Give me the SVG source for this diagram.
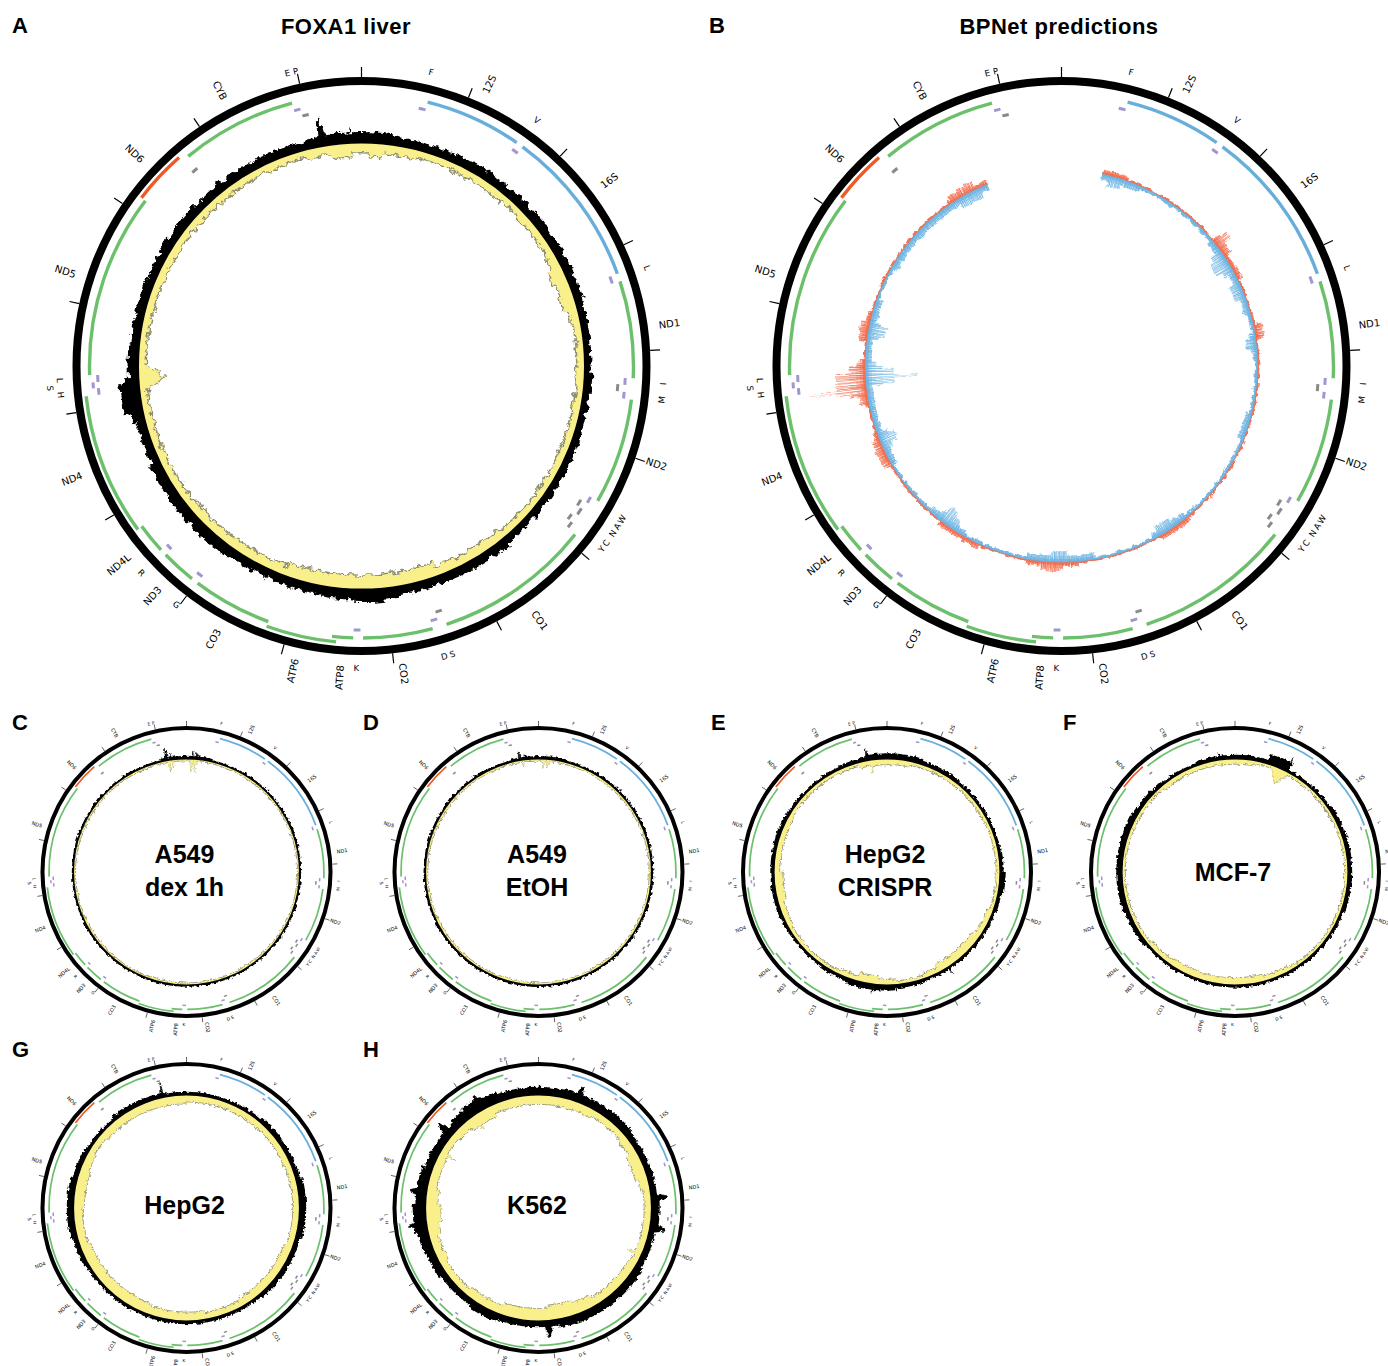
<svg xmlns="http://www.w3.org/2000/svg" width="1388" height="1366" viewBox="0 0 1388 1366">
<style>
.a{fill:none}
.k{stroke:#000;fill:#000}
.tk{fill:none;stroke:#000;stroke-width:1.2}
.g{font-family:"DejaVu Sans",sans-serif;font-size:10px;dominant-baseline:central;fill:#000}
.ge{font-family:"DejaVu Sans",sans-serif;font-size:10px;dominant-baseline:central;text-anchor:end;fill:#000}
.t{font-family:"DejaVu Sans",sans-serif;font-size:8.5px;dominant-baseline:central;text-anchor:middle;fill:#000}
.hd{font-family:"Liberation Sans",Arial,sans-serif;font-weight:bold;font-size:22px;letter-spacing:0.5px}
.big{font-family:"Liberation Sans",Arial,sans-serif;font-weight:bold;font-size:25px;text-anchor:middle}
.base{fill:none;stroke:#000;stroke-width:3}
</style>
<defs>
<filter id="rough" x="-10%" y="-10%" width="120%" height="120%" color-interpolation-filters="sRGB">
<feTurbulence type="fractalNoise" baseFrequency="0.15" numOctaves="3" seed="4" result="n"/>
<feDisplacementMap in="SourceGraphic" in2="n" scale="9" xChannelSelector="R" yChannelSelector="G"/>
</filter>
<filter id="rough2" x="-10%" y="-10%" width="120%" height="120%" color-interpolation-filters="sRGB">
<feTurbulence type="fractalNoise" baseFrequency="0.2" numOctaves="2" seed="9" result="n"/>
<feDisplacementMap in="SourceGraphic" in2="n" scale="6" xChannelSelector="R" yChannelSelector="G"/>
</filter>
<clipPath id="cOut"><path clip-rule="evenodd" d="M-400-400H400V400H-400ZM0-224A224 224 0 0 0 0 224A224 224 0 0 0 0-224Z"/></clipPath>
<clipPath id="cIn"><circle r="224"/></clipPath>

<g id="skel">
<circle r="285" fill="none" stroke="#000" stroke-width="8"/>
<path class="tk" d="M0-289V-299M107-268.5L110.7-277.8M198.7-209.8L205.6-217.1M262.3-121.3L271.4-125.5M288.6-15.6L298.6-16.1M273.9 92.3L283.3 95.5M220.2 187.2L227.8 193.6M135.3 255.4L140 264.2M31.1 287.3L32.2 297.3M-77.4 278.4L-80.1 288.1M-175 230L-181 238M-247.7 148.9L-256.3 154M-285.2 46.6L-295.1 48.2M-282.2-62.3L-292-64.5M-239.1-162.4L-247.4-168M-162-239.3L-167.6-247.6M-61.9-282.3L-64-292.1"/>
<path class="a" pathLength="16569" stroke="#6cc06b" stroke-width="3.4" stroke-dasharray="955 208 1041 393 1541 141 683 97 206 635 783 69 345 66 296 1571 1811 599 1140 3989" stroke-dashoffset="-3307" d="M0-272A272 272 0 0 1 0 272A272 272 0 0 1 0-272"/>
<path class="a" pathLength="16569" stroke="#68aedb" stroke-width="3.4" stroke-dasharray="953 70 1558 13988" stroke-dashoffset="-648" d="M0-272A272 272 0 0 1 0 272A272 272 0 0 1 0-272"/>
<path class="a" pathLength="16569" stroke="#6cc06b" stroke-width="3.4" stroke-dasharray="680 1553 1377 12959" stroke-dashoffset="-8527" d="M0-277A277 277 0 0 1 0 277A277 277 0 0 1 0-277"/>
<path class="a" pathLength="16569" stroke="#f05a22" stroke-width="3.4" stroke-dasharray="524 16045" stroke-dashoffset="-14149" d="M0-277A277 277 0 0 1 0 277A277 277 0 0 1 0-277"/>
<path class="a" pathLength="16569" stroke="#a097d0" stroke-width="3" stroke-dasharray="70 955 68 1560 74 959 68 71 67 1043 67 1939 67 710 69 1627 67 347 64 1669 68 60 70 3552 65 1193" stroke-dashoffset="-577" d="M0-264A264 264 0 0 1 0 264A264 264 0 0 1 0-264"/>
<path class="a" pathLength="16569" stroke="#a097d0" stroke-width="3" stroke-dasharray="58 16511" stroke-dashoffset="-12207" d="M0-269A269 269 0 0 1 0 269A269 269 0 0 1 0-269"/>
<path class="a" pathLength="16569" stroke="#8a8a8a" stroke-width="3" stroke-dasharray="71 1187 68 106 65 1620 68 7160 68 1214 67 4875" stroke-dashoffset="-4329" d="M0-257A257 257 0 0 1 0 257A257 257 0 0 1 0-257"/>
<path class="a" pathLength="16569" stroke="#8a8a8a" stroke-width="3" stroke-dasharray="72 97 65 16335" stroke-dashoffset="-5657" d="M0-262A262 262 0 0 1 0 262A262 262 0 0 1 0-262"/>
<text class="g" transform="rotate(-65.6)" x="300">12S</text>
<text class="g" transform="rotate(-36.8)" x="300">16S</text>
<text class="g" transform="rotate(-7.8)" x="300">ND1</text>
<text class="g" transform="rotate(18.4)" x="300">ND2</text>
<text class="g" transform="rotate(55)" x="300">CO1</text>
<text class="g" transform="rotate(82.2)" x="300">CO2</text>
<text class="ge" transform="rotate(-86)" x="-300">ATP8</text>
<text class="ge" transform="rotate(-77.3)" x="-300">ATP6</text>
<text class="ge" transform="rotate(-61.5)" x="-300">CO3</text>
<text class="ge" transform="rotate(-47.7)" x="-300">ND3</text>
<text class="ge" transform="rotate(-39.3)" x="-300">ND4L</text>
<text class="ge" transform="rotate(-21.3)" x="-300">ND4</text>
<text class="ge" transform="rotate(17.7)" x="-300">ND5</text>
<text class="ge" transform="rotate(43.1)" x="-300">ND6</text>
<text class="ge" transform="rotate(62.8)" x="-300">CYB</text>
<text class="t" transform="rotate(-14.2)" y="-302">E</text>
<text class="t" transform="rotate(-12.6)" y="-302">P</text>
<text class="t" transform="rotate(13.3)" y="-302">F</text>
<text class="t" transform="rotate(35.5)" y="-302">V</text>
<text class="t" transform="rotate(71)" y="-302">L</text>
<text class="t" transform="rotate(-86.6)" y="302">I</text>
<text class="t" transform="rotate(-83.6)" y="302">M</text>
<text class="t" transform="rotate(-59.5)" y="302">W</text>
<text class="t" transform="rotate(-57.9)" y="302">A</text>
<text class="t" transform="rotate(-56.3)" y="302">N</text>
<text class="t" transform="rotate(-54.1)" y="302">C</text>
<text class="t" transform="rotate(-52.7)" y="302">Y</text>
<text class="t" transform="rotate(-17.5)" y="302">S</text>
<text class="t" transform="rotate(-15.9)" y="302">D</text>
<text class="t" transform="rotate(1)" y="302">K</text>
<text class="t" transform="rotate(37.8)" y="302">G</text>
<text class="t" transform="rotate(46.8)" y="302">R</text>
<text class="t" transform="rotate(84.5)" y="302">H</text>
<text class="t" transform="rotate(85.9)" y="312">S</text>
<text class="t" transform="rotate(87.3)" y="302">L</text>
</g>

<g id="yA">
<circle class="a" r="222" stroke-width="12"/>
<path class="a" pathLength="360" stroke-width="14" stroke-dasharray="30 45 18 62 90 115" stroke-dashoffset="15" d="M0-221A221 221 0 0 1 0 221A221 221 0 0 1 0-221"/>
<path class="a" pathLength="360" stroke-width="18" stroke-dasharray="5 5 4 57 12 85 40 152" stroke-dashoffset="8" d="M0-219A219 219 0 0 1 0 219A219 219 0 0 1 0-219"/>
<path d="M-16-223.4L0-198L16-223.4z" transform="rotate(267)"/>
</g>
<g id="yC">
<circle class="a" r="224.25" stroke-width="7.5"/>
<path d="M-3-223L0-204L3-223z" transform="rotate(-9)"/>
<path d="M-2.5-223L0-211L2.5-223z" transform="rotate(-7)"/>
<path d="M-3-223L0-199L3-223z" transform="rotate(2.5)"/>
<path d="M-3-223L0-201L3-223z" transform="rotate(4.5)"/>
</g>
<g id="yD">
<circle class="a" r="224" stroke-width="8"/>
<path d="M-2.5-223L0-212L2.5-223z" transform="rotate(-8)"/>
<path d="M-3-223L0-206L3-223z" transform="rotate(2.5)"/>
<path d="M-3-223L0-209L3-223z" transform="rotate(5)"/>
</g>
<g id="yE">
<circle class="a" r="222.5" stroke-width="11"/>
<path class="a" pathLength="360" stroke-width="15" stroke-dasharray="27 98 50 15 30 35 60 45" stroke-dashoffset="15" d="M0-220.5A220.5 220.5 0 0 1 0 220.5A220.5 220.5 0 0 1 0-220.5"/>
<path class="a" pathLength="360" stroke-width="21" stroke-dasharray="27 33 10 60 15 215" stroke-dashoffset="-125" d="M0-217.5A217.5 217.5 0 0 1 0 217.5A217.5 217.5 0 0 1 0-217.5"/>
<path d="M-3-223L0-201L3-223z" transform="rotate(-8)"/>
<path d="M-3-223L0-208L3-223z" transform="rotate(-1)"/>
</g>
<g id="yF">
<circle class="a" r="223" stroke-width="10"/>
<path class="a" pathLength="360" stroke-width="14" stroke-dasharray="50 140 80 90" stroke-dashoffset="40" d="M0-221A221 221 0 0 1 0 221A221 221 0 0 1 0-221"/>
<path class="a" pathLength="360" stroke-width="18" stroke-dasharray="50 310" stroke-dashoffset="-165" d="M0-219A219 219 0 0 1 0 219A219 219 0 0 1 0-219"/>
<path d="M-20-223.1L0-193L20-223.1z" transform="rotate(24)"/>
</g>
<g id="yG">
<circle class="a" r="219.5" stroke-width="17"/>
<path class="a" pathLength="360" stroke-width="21" stroke-dasharray="50 110 40 20 130 10" stroke-dashoffset="50" d="M0-217.5A217.5 217.5 0 0 1 0 217.5A217.5 217.5 0 0 1 0-217.5"/>
<path class="a" pathLength="360" stroke-width="25" stroke-dasharray="50 20 20 270" stroke-dashoffset="-200" d="M0-215.5A215.5 215.5 0 0 1 0 215.5A215.5 215.5 0 0 1 0-215.5"/>
</g>
<g id="yH">
<circle class="a" r="219" stroke-width="18"/>
<path class="a" pathLength="360" stroke-width="22" stroke-dasharray="80 20 30 40 100 20 60 10" stroke-dashoffset="50" d="M0-217A217 217 0 0 1 0 217A217 217 0 0 1 0-217"/>
<path class="a" pathLength="360" stroke-width="28" stroke-dasharray="15 85 15 75 50 55 25 40" stroke-dashoffset="40" d="M0-214A214 214 0 0 1 0 214A214 214 0 0 1 0-214"/>
<path class="a" pathLength="360" stroke-width="34" stroke-dasharray="15 87 10 248" stroke-dashoffset="-160" d="M0-211A211 211 0 0 1 0 211A211 211 0 0 1 0-211"/>
<path d="M-4-223L0-192L4-223z" transform="rotate(-35)"/>
<path d="M-4-223L0-194L4-223z" transform="rotate(115)"/>
<path d="M-4-223L0-193L4-223z" transform="rotate(300)"/>
</g>

<mask id="mBo" maskUnits="userSpaceOnUse" x="-330" y="-330" width="660" height="660">
<g class="a" stroke="#fff" filter="url(#rough2)">
<path pathLength="360" stroke-width="3" stroke-dasharray="326 34" stroke-dashoffset="-12" d="M0-196.5A196.5 196.5 0 0 1 0 196.5A196.5 196.5 0 0 1 0-196.5"/>
<path pathLength="360" stroke-width="6" stroke-dasharray="8 32 12 76 10 25 15 15 13 22 10 8 14 6 8 39 13 34" stroke-dashoffset="-12" d="M0-198A198 198 0 0 1 0 198A198 198 0 0 1 0-198"/>
<path pathLength="360" stroke-width="10" stroke-dasharray="6 22 4 98 6 54 8 11 12 6 6 43 8 76" stroke-dashoffset="-50" d="M0-200A200 200 0 0 1 0 200A200 200 0 0 1 0-200"/>
<path pathLength="360" stroke-width="17" stroke-dasharray="2 208 9 141" stroke-dashoffset="-51" d="M0-203.5A203.5 203.5 0 0 1 0 203.5A203.5 203.5 0 0 1 0-203.5"/>
<path pathLength="360" stroke-width="31" stroke-dasharray="6 354" stroke-dashoffset="-262" d="M0-210.5A210.5 210.5 0 0 1 0 210.5A210.5 210.5 0 0 1 0-210.5"/>
<path pathLength="360" stroke-width="59" stroke-dasharray="0.7 359.3" stroke-dashoffset="-262.6" d="M0-224.5A224.5 224.5 0 0 1 0 224.5A224.5 224.5 0 0 1 0-224.5"/>
</g>
</mask>
<mask id="mBb" maskUnits="userSpaceOnUse" x="-330" y="-330" width="660" height="660">
<g class="a" stroke="#fff" filter="url(#rough2)">
<path pathLength="360" stroke-width="3.5" stroke-dasharray="326 34" stroke-dashoffset="-12" d="M0-195.25A195.25 195.25 0 0 1 0 195.25A195.25 195.25 0 0 1 0-195.25"/>
<path pathLength="360" stroke-width="7" stroke-dasharray="12 26 25 5 6 18 8 28 12 18 20 20 12 18 50 10 38 34" stroke-dashoffset="-12" d="M0-193.5A193.5 193.5 0 0 1 0 193.5A193.5 193.5 0 0 1 0-193.5"/>
<path pathLength="360" stroke-width="12" stroke-dasharray="4 36 8 3 5 12 3 60 5 28 5 30 6 26 5 14 7 7 5 45 7 39" stroke-dashoffset="-14" d="M0-191A191 191 0 0 1 0 191A191 191 0 0 1 0-191"/>
<path pathLength="360" stroke-width="18" stroke-dasharray="4 155 3 28 3 15 6 9 3 134" stroke-dashoffset="-56" d="M0-188A188 188 0 0 1 0 188A188 188 0 0 1 0-188"/>
<path pathLength="360" stroke-width="29" stroke-dasharray="5 355" stroke-dashoffset="-264.5" d="M0-182.5A182.5 182.5 0 0 1 0 182.5A182.5 182.5 0 0 1 0-182.5"/>
<path pathLength="360" stroke-width="53" stroke-dasharray="1.2 358.8" stroke-dashoffset="-266" d="M0-170.5A170.5 170.5 0 0 1 0 170.5A170.5 170.5 0 0 1 0-170.5"/>
</g>
</mask>
</defs>

<rect width="1388" height="1366" fill="#fff"/>

<g id="titles">
<text class="hd" x="12" y="33">A</text>
<text class="hd" x="346" y="34" text-anchor="middle">FOXA1 liver</text>
<text class="hd" x="709" y="33">B</text>
<text class="hd" x="1059" y="34" text-anchor="middle">BPNet predictions</text>
<text class="hd" x="12" y="730">C</text>
<text class="hd" x="363" y="730">D</text>
<text class="hd" x="711" y="730">E</text>
<text class="hd" x="1063" y="730">F</text>
<text class="hd" x="12" y="1057">G</text>
<text class="hd" x="363" y="1057">H</text>
</g>

<g id="panelA" transform="translate(361.5,366)">
<use href="#skel"/>
<g clip-path="url(#cOut)"><g filter="url(#rough)" class="k">
<circle class="a" r="225" stroke-width="10"/>
<path class="a" pathLength="360" stroke-width="12" stroke-dasharray="295 65" stroke-dashoffset="-140" d="M0-226A226 226 0 0 1 0 226A226 226 0 0 1 0-226"/>
<path class="a" pathLength="360" stroke-width="14" stroke-dasharray="20 162 20 25 30 11 19 73" stroke-dashoffset="12" d="M0-227A227 227 0 0 1 0 227A227 227 0 0 1 0-227"/>
<path class="a" pathLength="360" stroke-width="17" stroke-dasharray="8 74 11 267" stroke-dashoffset="-174" d="M0-228.5A228.5 228.5 0 0 1 0 228.5A228.5 228.5 0 0 1 0-228.5"/>
<path class="a" pathLength="360" stroke-width="22" stroke-dasharray="8 352" stroke-dashoffset="-258" d="M0-231A231 231 0 0 1 0 231A231 231 0 0 1 0-231"/>
<path d="M-3-224L0-254L3-224z" transform="rotate(-10)"/>
<path d="M-2.5-224L0-238L2.5-224z" transform="rotate(-3)"/>
</g></g>
<g clip-path="url(#cIn)"><g filter="url(#rough)">
<use href="#yA" stroke="#8e8e72" fill="#8e8e72" transform="scale(0.993)"/>
<use href="#yA" stroke="#f9f08c" fill="#f9f08c"/>
</g></g>
<circle class="base" r="224"/>
</g>

<g id="panelB" transform="translate(1061.5,366)">
<use href="#skel"/>
<g mask="url(#mBo)" fill="none" stroke="#f26a4b">
<circle r="197.5" stroke-width="3" stroke-dasharray="0.9 0.3 0.6 0.4 1.1 0.3"/>
<circle r="199" stroke-width="6" stroke-dasharray="0.4 0.5 0.5 0.9 0.3 0.6 0.6 1.2 0.4 0.7"/>
<circle r="201" stroke-width="10" stroke-dasharray="0.4 1.1 0.5 1.9 0.3 0.9 0.4 2.6 0.5 1.4"/>
<circle r="204.5" stroke-width="17" stroke-dasharray="0.4 1.7 0.5 2.9 0.3 2.3 0.4 1.2"/>
<circle r="212" stroke-width="32" stroke-dasharray="0.4 1.4 0.3 2.2 0.5 3.1 0.4 0.9"/>
<circle r="227" stroke-width="62" stroke-dasharray="0.4 1.1 0.3 1.6"/>
</g>
<g mask="url(#mBb)" fill="none" stroke="#6cb4e2">
<circle r="194.5" stroke-width="3" stroke-dasharray="1 0.3 0.7 0.4 0.8 0.2"/>
<circle r="193" stroke-width="6" stroke-dasharray="0.5 0.5 0.4 0.9 0.6 0.4 0.3 1.1 0.5 0.6"/>
<circle r="191" stroke-width="10" stroke-dasharray="0.5 1.1 0.4 1.8 0.3 1.3 0.5 2.2 0.4 0.8"/>
<circle r="187.5" stroke-width="17" stroke-dasharray="0.4 1.5 0.3 2.6 0.5 2 0.4 1.1"/>
<circle r="180" stroke-width="32" stroke-dasharray="0.4 1.2 0.3 2 0.5 2.8 0.4 0.9"/>
<circle r="167" stroke-width="58" stroke-dasharray="0.4 0.9 0.3 1.4"/>
</g>
<path class="a" pathLength="360" stroke="#6cb4e2" stroke-width="1.4" stroke-dasharray="326 34" stroke-dashoffset="-12" d="M0-196A196 196 0 0 1 0 196A196 196 0 0 1 0-196"/>
<path class="a" pathLength="360" stroke="#f26a4b" stroke-width="0.7" stroke-dasharray="326 34" stroke-dashoffset="-12" d="M0-196.8A196.8 196.8 0 0 1 0 196.8A196.8 196.8 0 0 1 0-196.8"/>
</g>

<g id="panelC" transform="translate(186.5,872) scale(0.5053)">
<use href="#skel"/>
<g clip-path="url(#cOut)"><g filter="url(#rough)" class="k">
<circle class="a" r="223.5" stroke-width="7"/>
<path class="a" pathLength="360" stroke-width="10" stroke-dasharray="26 334" stroke-dashoffset="13" d="M0-225A225 225 0 0 1 0 225A225 225 0 0 1 0-225"/>
<path d="M-3-224L0-250L3-224z" transform="rotate(-10)"/>
<path d="M-2.5-224L0-238L2.5-224z" transform="rotate(-8)"/>
<path d="M-2.5-224L0-240L2.5-224z" transform="rotate(3)"/>
<path d="M-2-224L0-238L2-224z" transform="rotate(5)"/>
</g></g>
<g clip-path="url(#cIn)"><g filter="url(#rough)">
<use href="#yC" stroke="#8e8e72" fill="#8e8e72" transform="scale(0.993)"/>
<use href="#yC" stroke="#f9f08c" fill="#f9f08c"/>
</g></g>
<circle class="base" r="224"/>
</g>
<text class="big" x="184.5" y="863">A549</text>
<text class="big" x="184.5" y="896">dex 1h</text>

<g id="panelD" transform="translate(538.5,872) scale(0.5053)">
<use href="#skel"/>
<g clip-path="url(#cOut)"><g filter="url(#rough)" class="k">
<circle class="a" r="223.75" stroke-width="7.5"/>
<path class="a" pathLength="360" stroke-width="9.5" stroke-dasharray="28 332" stroke-dashoffset="14" d="M0-224.75A224.75 224.75 0 0 1 0 224.75A224.75 224.75 0 0 1 0-224.75"/>
<path d="M-3-224L0-242L3-224z" transform="rotate(-9.5)"/>
<path d="M-2-224L0-234L2-224z" transform="rotate(-7)"/>
<path d="M-2-224L0-232L2-224z" transform="rotate(4)"/>
</g></g>
<g clip-path="url(#cIn)"><g filter="url(#rough)">
<use href="#yD" stroke="#8e8e72" fill="#8e8e72" transform="scale(0.993)"/>
<use href="#yD" stroke="#f9f08c" fill="#f9f08c"/>
</g></g>
<circle class="base" r="224"/>
</g>
<text class="big" x="537" y="863">A549</text>
<text class="big" x="537" y="896">EtOH</text>

<g id="panelE" transform="translate(887,872) scale(0.5053)">
<use href="#skel"/>
<g clip-path="url(#cOut)"><g filter="url(#rough)" class="k">
<circle class="a" r="224.5" stroke-width="9"/>
<path class="a" pathLength="360" stroke-width="11" stroke-dasharray="65 40 30 50 55 30 55 35" stroke-dashoffset="25" d="M0-225.5A225.5 225.5 0 0 1 0 225.5A225.5 225.5 0 0 1 0-225.5"/>
<path class="a" pathLength="360" stroke-width="15" stroke-dasharray="28 72 10 75 25 150" stroke-dashoffset="10" d="M0-227.5A227.5 227.5 0 0 1 0 227.5A227.5 227.5 0 0 1 0-227.5"/>
<path d="M-3-224L0-248L3-224z" transform="rotate(-10)"/>
<path d="M-3-224L0-242L3-224z" transform="rotate(147)"/>
<path d="M-3-224L0-242L3-224z" transform="rotate(187)"/>
</g></g>
<g clip-path="url(#cIn)"><g filter="url(#rough)">
<use href="#yE" stroke="#8e8e72" fill="#8e8e72" transform="scale(0.993)"/>
<use href="#yE" stroke="#f9f08c" fill="#f9f08c"/>
</g></g>
<circle class="base" r="224"/>
</g>
<text class="big" x="885" y="863">HepG2</text>
<text class="big" x="885" y="896">CRISPR</text>

<g id="panelF" transform="translate(1235,872) scale(0.5053)">
<use href="#skel"/>
<g clip-path="url(#cOut)"><g filter="url(#rough)" class="k">
<circle class="a" r="224.5" stroke-width="9"/>
<path class="a" pathLength="360" stroke-width="12" stroke-dasharray="37 38 55 120 90 20" stroke-dashoffset="20" d="M0-226A226 226 0 0 1 0 226A226 226 0 0 1 0-226"/>
<path class="a" pathLength="360" stroke-width="15" stroke-dasharray="50 310" stroke-dashoffset="-250" d="M0-227.5A227.5 227.5 0 0 1 0 227.5A227.5 227.5 0 0 1 0-227.5"/>
<path class="a" pathLength="360" stroke-width="24" stroke-dasharray="11 349" stroke-dashoffset="-17" d="M0-232A232 232 0 0 1 0 232A232 232 0 0 1 0-232"/>
<path d="M-2.5-224L0-240L2.5-224z" transform="rotate(-8)"/>
<path d="M-4-224L0-254L4-224z" transform="rotate(27)"/>
</g></g>
<g clip-path="url(#cIn)"><g filter="url(#rough)">
<use href="#yF" stroke="#8e8e72" fill="#8e8e72" transform="scale(0.993)"/>
<use href="#yF" stroke="#f9f08c" fill="#f9f08c"/>
</g></g>
<circle class="base" r="224"/>
</g>
<text class="big" x="1233" y="881">MCF-7</text>

<g id="panelG" transform="translate(186.5,1208) scale(0.5053)">
<use href="#skel"/>
<g clip-path="url(#cOut)"><g filter="url(#rough)" class="k">
<circle class="a" r="225" stroke-width="10"/>
<path class="a" pathLength="360" stroke-width="13" stroke-dasharray="30 50 100 100 60 20" stroke-dashoffset="40" d="M0-226.5A226.5 226.5 0 0 1 0 226.5A226.5 226.5 0 0 1 0-226.5"/>
<path class="a" pathLength="360" stroke-width="17" stroke-dasharray="30 150 30 150" stroke-dashoffset="-75" d="M0-228.5A228.5 228.5 0 0 1 0 228.5A228.5 228.5 0 0 1 0-228.5"/>
<path d="M-3-224L0-254L3-224z" transform="rotate(-12)"/>
</g></g>
<g clip-path="url(#cIn)"><g filter="url(#rough)">
<use href="#yG" stroke="#8e8e72" fill="#8e8e72" transform="scale(0.993)"/>
<use href="#yG" stroke="#f9f08c" fill="#f9f08c"/>
</g></g>
<circle class="base" r="224"/>
</g>
<text class="big" x="184.5" y="1214">HepG2</text>

<g id="panelH" transform="translate(538.5,1208) scale(0.5053)">
<use href="#skel"/>
<g clip-path="url(#cOut)"><g filter="url(#rough)" class="k">
<circle class="a" r="228" stroke-width="16"/>
<path class="a" pathLength="360" stroke-width="20" stroke-dasharray="15 20 50 30 15 20 175 35" stroke-dashoffset="-85" d="M0-230A230 230 0 0 1 0 230A230 230 0 0 1 0-230"/>
<path class="a" pathLength="360" stroke-width="24" stroke-dasharray="25 270 40 25" stroke-dashoffset="45" d="M0-232A232 232 0 0 1 0 232A232 232 0 0 1 0-232"/>
<path class="a" pathLength="360" stroke-width="29" stroke-dasharray="10 286 14 50" stroke-dashoffset="38" d="M0-234.5A234.5 234.5 0 0 1 0 234.5A234.5 234.5 0 0 1 0-234.5"/>
<path d="M-10-224L-2-258L2-258L10-224z" transform="rotate(-50)"/>
<path d="M-10-224L-2-256L2-256L10-224z" transform="rotate(-30)"/>
<path d="M-10-224L-2-254L2-254L10-224z" transform="rotate(20)"/>
<path d="M-10-224L-2-256L2-256L10-224z" transform="rotate(85)"/>
<path d="M-10-224L-2-254L2-254L10-224z" transform="rotate(100)"/>
<path d="M-10-224L-2-255L2-255L10-224z" transform="rotate(175)"/>
<path d="M-10-224L-2-259L2-259L10-224z" transform="rotate(262)"/>
<path d="M-10-224L-2-256L2-256L10-224z" transform="rotate(278)"/>
</g></g>
<g clip-path="url(#cIn)"><g filter="url(#rough)">
<use href="#yH" stroke="#8e8e72" fill="#8e8e72" transform="scale(0.993)"/>
<use href="#yH" stroke="#f9f08c" fill="#f9f08c"/>
</g></g>
<circle class="base" r="224"/>
</g>
<text class="big" x="537" y="1214">K562</text>
</svg>
